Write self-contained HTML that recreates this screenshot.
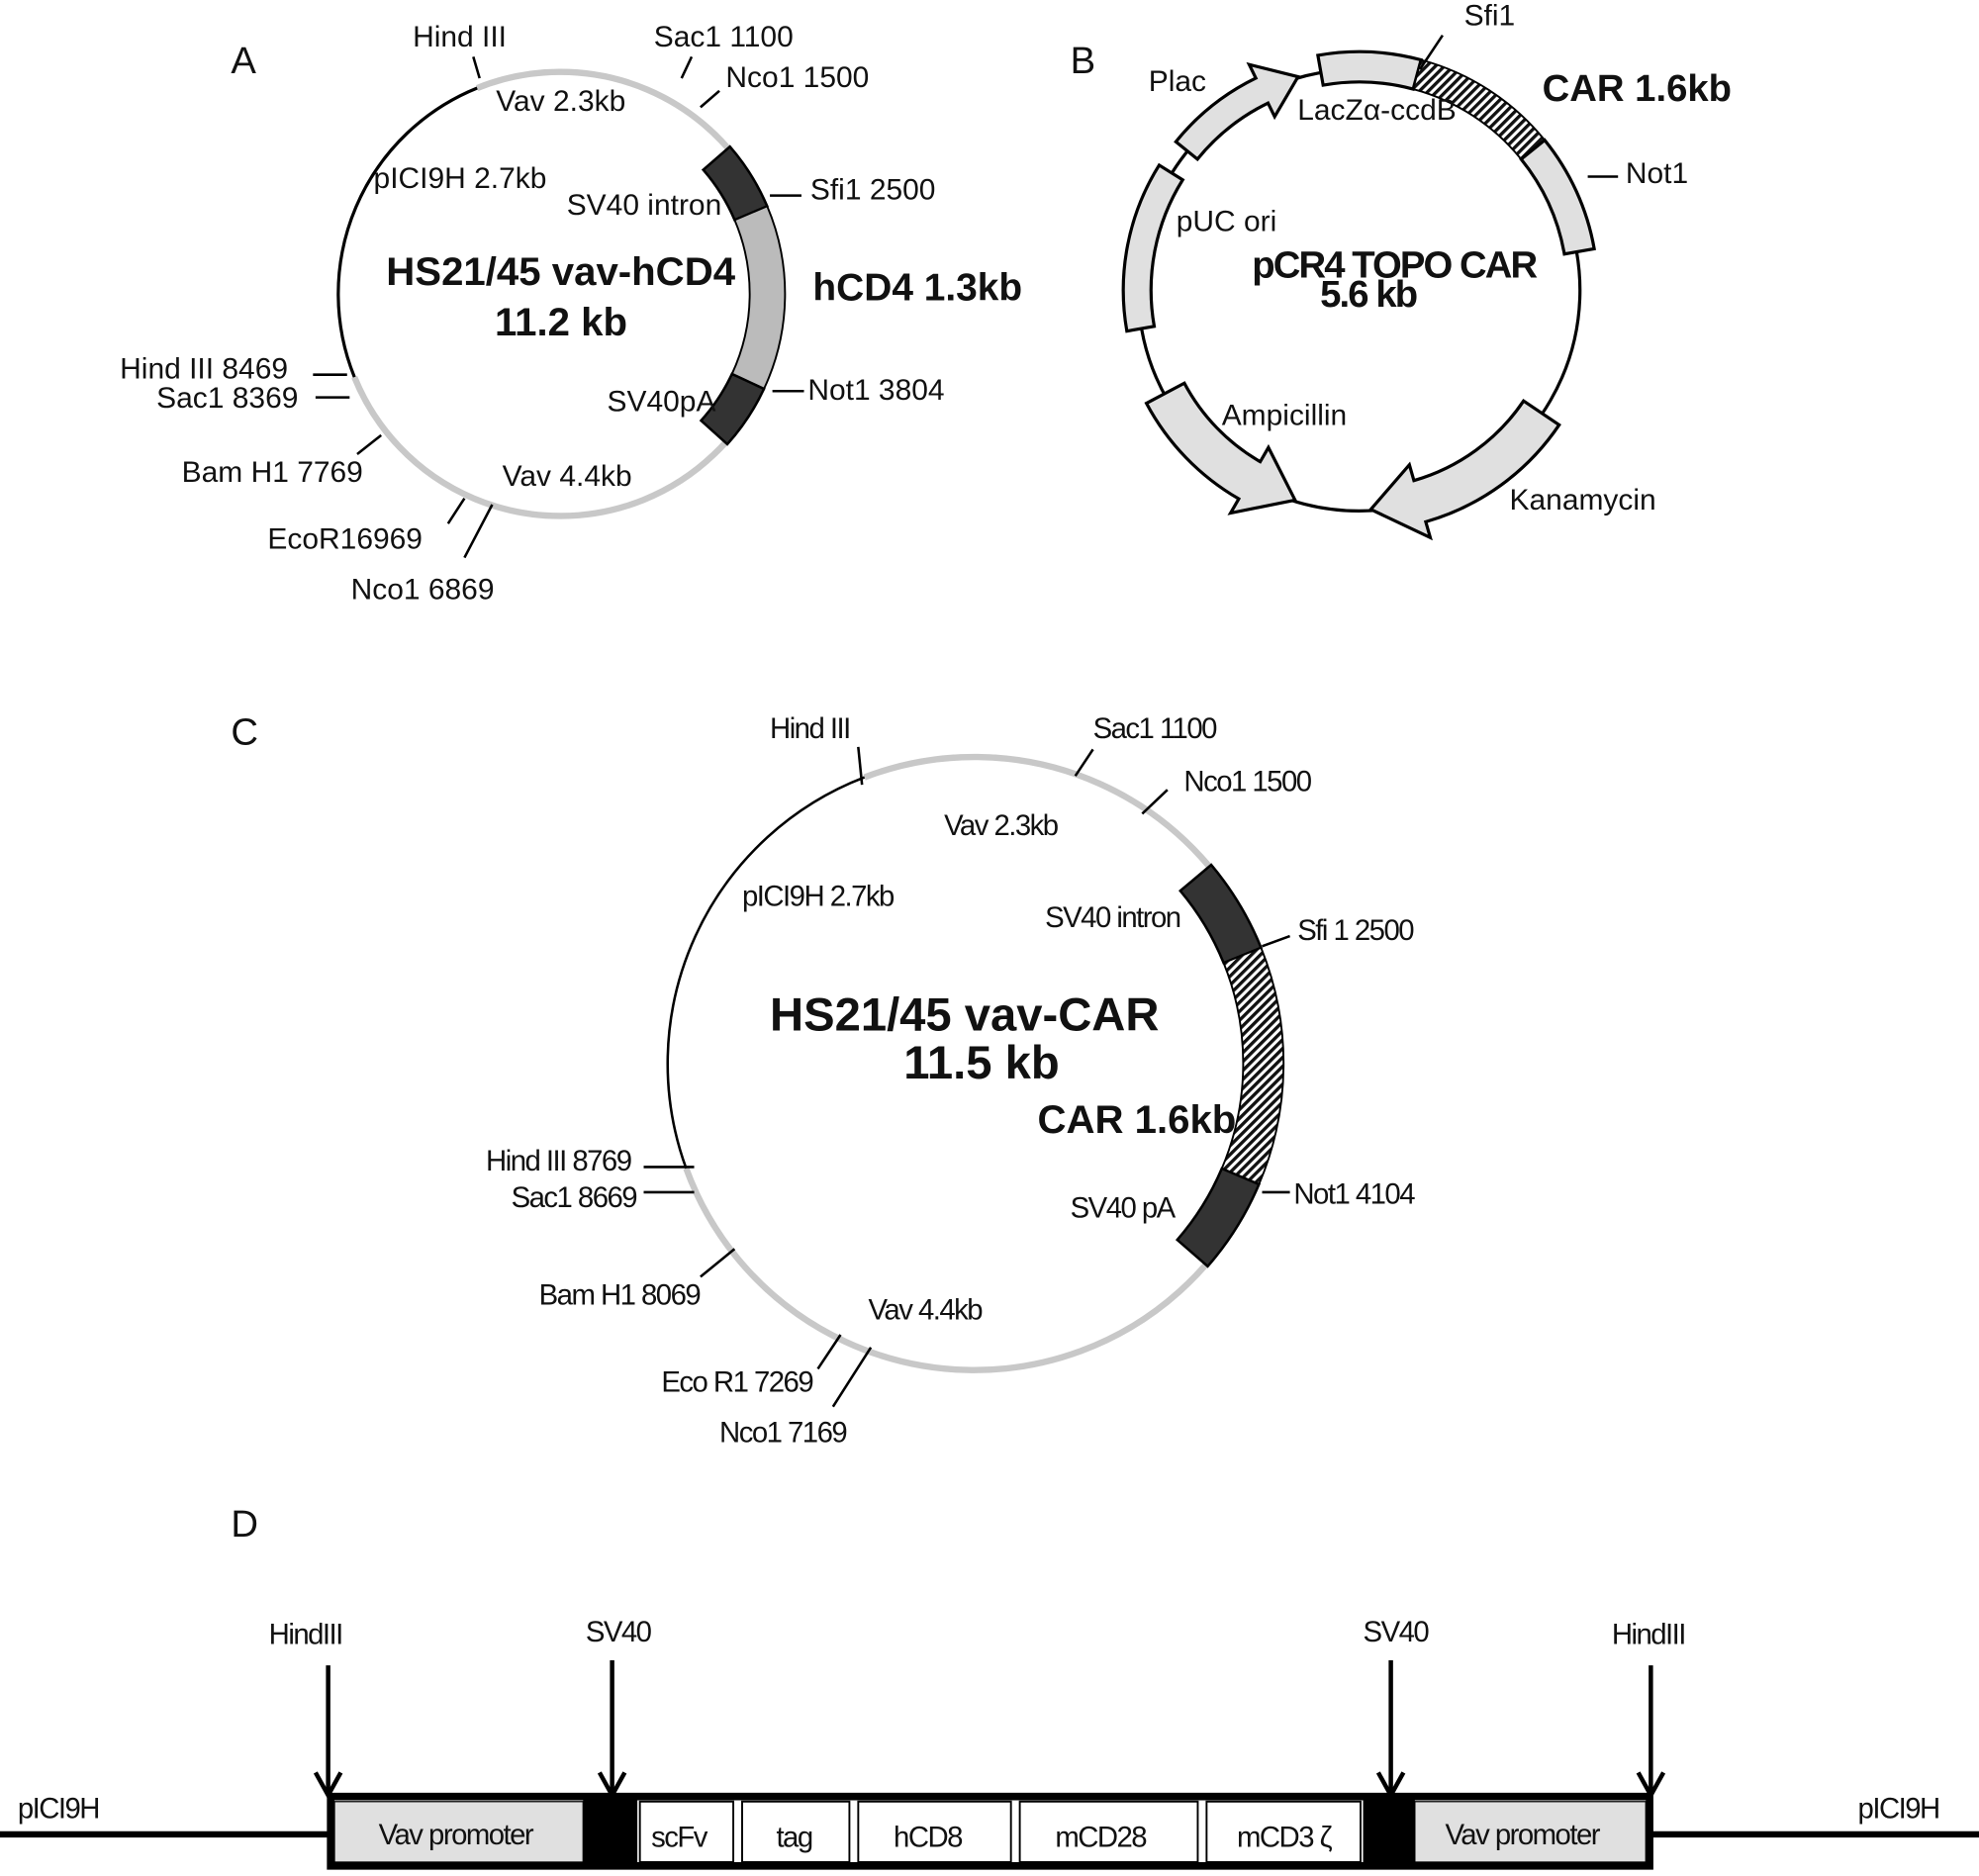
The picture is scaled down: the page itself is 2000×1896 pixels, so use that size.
<!DOCTYPE html>
<html><head><meta charset="utf-8"><style>
html,body{margin:0;padding:0;background:#fff;}
svg{display:block;}
text{font-family:"Liberation Sans",Arial,sans-serif;fill:#111;}
.a{font-size:23.5px;}
.c{font-size:23px;letter-spacing:-1.2px;}
.b{font-weight:bold;}
</style></head><body>
<svg id="s" width="2000" height="1896" viewBox="0 0 1568 1487" preserveAspectRatio="none" xmlns="http://www.w3.org/2000/svg">
<defs>
<pattern id="h" patternUnits="userSpaceOnUse" width="5" height="5" patternTransform="rotate(45)">
<rect width="5" height="5" fill="#fff"/><rect width="2.6" height="5" fill="#111"/>
</pattern>
</defs>
<g id="g"></g>
<!-- Panel A text -->
<text x="183" y="58" font-size="30">A</text>
<text class="a" x="327" y="37">Hind III</text>
<text class="a" x="518" y="37">Sac1 1100</text>
<text class="a" x="575" y="69">Nco1 1500</text>
<text class="a" x="393" y="88">Vav 2.3kb</text>
<text class="a" x="296" y="149">pICI9H 2.7kb</text>
<text class="a" x="449" y="170">SV40 intron</text>
<text class="a" x="642" y="158">Sfi1 2500</text>
<text class="b" x="306" y="226" font-size="31.5">HS21/45 vav-hCD4</text>
<text class="b" x="392" y="266" font-size="31.5">11.2 kb</text>
<text class="b" x="644" y="238" font-size="30.5">hCD4 1.3kb</text>
<text class="a" x="95" y="300">Hind III 8469</text>
<text class="a" x="124" y="323">Sac1 8369</text>
<text class="a" x="481" y="326">SV40pA</text>
<text class="a" x="640" y="317">Not1 3804</text>
<text class="a" x="144" y="382">Bam H1 7769</text>
<text class="a" x="398" y="385">Vav 4.4kb</text>
<text class="a" x="212" y="435">EcoR16969</text>
<text class="a" x="278" y="475">Nco1 6869</text>
<!-- Panel B text -->
<text x="848" y="58" font-size="30">B</text>
<text class="a" x="1160" y="20">Sfi1</text>
<text class="a" x="910" y="72">Plac</text>
<text class="a" x="1028" y="95">LacZα-ccdB</text>
<text class="b" x="1222" y="80" font-size="30">CAR 1.6kb</text>
<text class="a" x="1288" y="145">Not1</text>
<text class="a" x="932" y="183">pUC ori</text>
<text class="b" x="992" y="220" font-size="30" letter-spacing="-1.5">pCR4 TOPO CAR</text>
<text class="b" x="1046" y="243" font-size="30" letter-spacing="-1.5">5.6 kb</text>
<text class="a" x="968" y="337">Ampicillin</text>
<text class="a" x="1196" y="404">Kanamycin</text>
<!-- Panel C text -->
<text x="183" y="590" font-size="30">C</text>
<text class="c" x="610" y="585">Hind III</text>
<text class="c" x="866" y="585">Sac1 1100</text>
<text class="c" x="938" y="627">Nco1 1500</text>
<text class="c" x="748" y="662">Vav  2.3kb</text>
<text class="c" x="588" y="718">pICI9H 2.7kb</text>
<text class="c" x="828" y="735">SV40 intron</text>
<text class="c" x="1028" y="745">Sfi 1 2500</text>
<text class="b" x="610" y="817" font-size="37">HS21/45 vav-CAR</text>
<text class="b" x="716" y="855" font-size="37">11.5 kb</text>
<text class="b" x="822" y="898" font-size="31.5">CAR 1.6kb</text>
<text class="c" x="385" y="928">Hind III 8769</text>
<text class="c" x="405" y="957">Sac1 8669</text>
<text class="c" x="1025" y="954">Not1 4104</text>
<text class="c" x="848" y="965">SV40  pA</text>
<text class="c" x="427" y="1034">Bam H1 8069</text>
<text class="c" x="688" y="1046">Vav  4.4kb</text>
<text class="c" x="524" y="1103">Eco R1 7269</text>
<text class="c" x="570" y="1143">Nco1 7169</text>
<!-- Panel D -->
<text x="183" y="1218" font-size="30">D</text>
<text class="c" x="213" y="1303">HindIII</text>
<text class="c" x="464" y="1301">SV40</text>
<text class="c" x="1080" y="1301">SV40</text>
<text class="c" x="1277" y="1303">HindIII</text>
<text class="c" x="14" y="1441">pICI9H</text>
<text class="c" x="1472" y="1441">pICI9H</text>
<line x1="0" y1="1454" x2="262" y2="1454" stroke="#000" stroke-width="5"/>
<line x1="1306" y1="1454" x2="1568" y2="1454" stroke="#000" stroke-width="5"/>
<rect x="262" y="1424" width="1045" height="55" fill="#fff" stroke="#000" stroke-width="6"/>
<rect x="265" y="1428" width="197" height="48" fill="#e0e0e0" stroke="#000" stroke-width="1"/>
<rect x="462" y="1424" width="43" height="55" fill="#000"/>
<rect x="1080" y="1424" width="41" height="55" fill="#000"/>
<rect x="1121" y="1428" width="183" height="48" fill="#e0e0e0" stroke="#000" stroke-width="1"/>
<g fill="#fff" stroke="#000" stroke-width="1.5">
<rect x="507" y="1428" width="74" height="48"/>
<rect x="588" y="1428" width="85" height="48"/>
<rect x="680" y="1428" width="121" height="48"/>
<rect x="808" y="1428" width="141" height="48"/>
<rect x="956" y="1428" width="122" height="48"/>
</g>
<text class="c" x="300" y="1462">Vav promoter</text>
<text class="c" x="516" y="1464">scFv</text>
<text class="c" x="615" y="1464">tag</text>
<text class="c" x="708" y="1464">hCD8</text>
<text class="c" x="836" y="1464">mCD28</text>
<text class="c" x="980" y="1464">mCD3 ζ</text>
<text class="c" x="1145" y="1462">Vav promoter</text>
<g stroke="#000" stroke-width="3.5" fill="none">
<line x1="260" y1="1320" x2="260" y2="1422"/><polyline points="250,1405 260,1423 270,1405"/>
<line x1="485" y1="1316" x2="485" y2="1422"/><polyline points="475,1405 485,1423 495,1405"/>
<line x1="1102" y1="1316" x2="1102" y2="1422"/><polyline points="1092,1405 1102,1423 1112,1405"/>
<line x1="1308" y1="1320" x2="1308" y2="1422"/><polyline points="1298,1405 1308,1423 1318,1405"/>
</g>
</svg>
<script>
(function(){
var g=document.getElementById('g'),NS='http://www.w3.org/2000/svg';
function P(cx,cy,r,a){var t=a*Math.PI/180;return (cx+r*Math.sin(t)).toFixed(2)+' '+(cy-r*Math.cos(t)).toFixed(2);}
function add(d,attrs){var p=document.createElementNS(NS,'path');p.setAttribute('d',d);for(var k in attrs)p.setAttribute(k,attrs[k]);g.appendChild(p);}
function arc(cx,cy,r,a1,a2){var l=(a2-a1)>180?1:0;return 'M'+P(cx,cy,r,a1)+' A'+r+' '+r+' 0 '+l+' 1 '+P(cx,cy,r,a2);}
function band(cx,cy,ri,ro,a1,a2){var l=(a2-a1)>180?1:0;return 'M'+P(cx,cy,ro,a1)+' A'+ro+' '+ro+' 0 '+l+' 1 '+P(cx,cy,ro,a2)+' L'+P(cx,cy,ri,a2)+' A'+ri+' '+ri+' 0 '+l+' 0 '+P(cx,cy,ri,a1)+' Z';}
function arrow(cx,cy,ri,ro,a1,a2,h,e){var d=a2>a1?1:-1,ab=a2-d*h,rm=(ri+ro)/2,s=d>0?1:0,s2=d>0?0:1;
 return 'M'+P(cx,cy,ro,a1)+' A'+ro+' '+ro+' 0 0 '+s+' '+P(cx,cy,ro,ab)+' L'+P(cx,cy,ro+e,ab)+' L'+P(cx,cy,rm,a2)+' L'+P(cx,cy,ri-e,ab)+' L'+P(cx,cy,ri,ab)+' A'+ri+' '+ri+' 0 0 '+s2+' '+P(cx,cy,ri,a1)+' Z';}
function line(x1,y1,x2,y2,w){add('M'+x1+' '+y1+' L'+x2+' '+y2,{stroke:'#000','stroke-width':w||2,fill:'none'});}
// Panel A
var ax=444,ay=233,ar=176;
add(arc(ax,ay,ar,-22,248),{stroke:'#c8c8c8','stroke-width':5,fill:'none'});
add(arc(ax,ay,ar,248,338),{stroke:'#000','stroke-width':2.5,fill:'none'});
add(band(ax,ay,ar-26,ar+2,49,67),{fill:'#333',stroke:'#000','stroke-width':2});
add(band(ax,ay,ar-26,ar+2,67,115),{fill:'#bbb',stroke:'#000','stroke-width':1.5});
add(band(ax,ay,ar-26,ar+2,115,132),{fill:'#333',stroke:'#000','stroke-width':2});
line(375,45,380,62);line(540,62,548,45);line(555,85,570,72);line(610,155,635,155);line(612,310,637,310);
line(248,297,275,297);line(250,315,277,315);line(283,360,302,345);line(355,415,368,395);line(368,442,390,400);
// Panel B
var bx=1077,by=230,br=175;
add(arc(bx,by,br,0,359.9),{stroke:'#000','stroke-width':2.5,fill:'none'});
add(band(bx,by,br-10,br+14,-10,15),{fill:'#e0e0e0',stroke:'#000','stroke-width':2.5});
add(band(bx,by,br-10,br+14,15,51),{fill:'url(#h)',stroke:'#000','stroke-width':1.5});
add(band(bx,by,br-10,br+14,51,80),{fill:'#e0e0e0',stroke:'#000','stroke-width':2.5});
add(band(bx,by,br-10,br+12,-100,-58),{fill:'#e0e0e0',stroke:'#000','stroke-width':2.5});
add(arrow(bx,by,br-10,br+12,-51,-16,10,12),{fill:'#e0e0e0',stroke:'#000','stroke-width':2.5});
add(arrow(bx,by,br-18,br+16,-118,-163,13,13),{fill:'#e0e0e0',stroke:'#000','stroke-width':2.5});
add(arrow(bx,by,br-18,br+16,124,177,13,13),{fill:'#e0e0e0',stroke:'#000','stroke-width':2.5});
line(1125,55,1143,28);line(1258,140,1282,140);
// Panel C
var cx=772,cy=843,cr=243;
add(arc(cx,cy,cr,-21,250),{stroke:'#c8c8c8','stroke-width':5,fill:'none'});
add(arc(cx,cy,cr,250,339),{stroke:'#000','stroke-width':2,fill:'none'});
add(band(cx,cy,cr-30,cr+2,50,68),{fill:'#333',stroke:'#000','stroke-width':2});
add(band(cx,cy,cr-30,cr+2,68,113),{fill:'url(#h)',stroke:'#000','stroke-width':1.5});
add(band(cx,cy,cr-30,cr+2,113,131),{fill:'#333',stroke:'#000','stroke-width':2});
line(680,592,683,622);line(852,615,866,594);line(905,645,925,626);line(1000,750,1022,742);line(1000,945,1022,945);
line(510,925,550,925);line(510,945,550,945);line(555,1012,582,990);line(648,1085,666,1058);line(660,1115,690,1068);
})();
</script>
</body></html>
